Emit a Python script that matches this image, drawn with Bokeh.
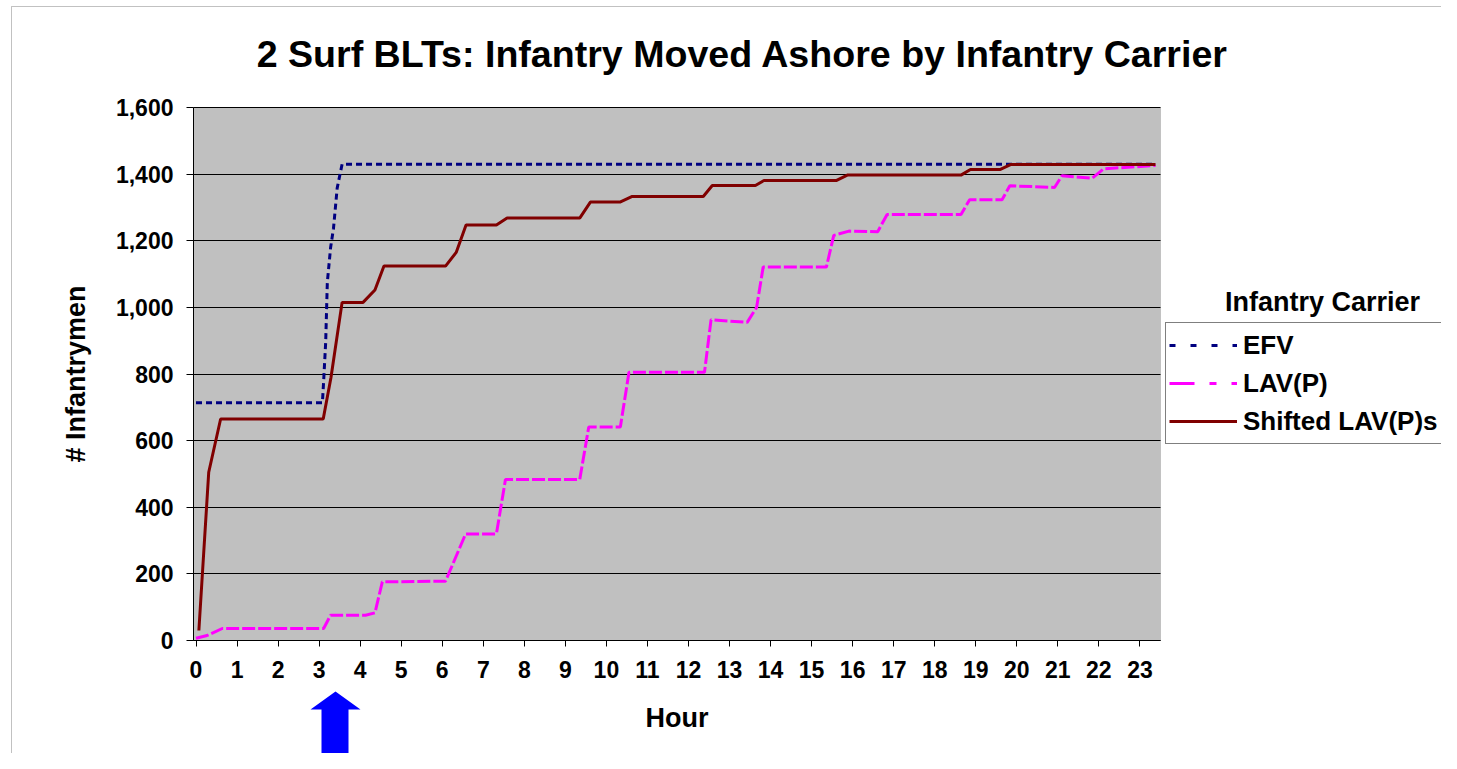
from bokeh.plotting import figure
from bokeh.embed import file_html
from bokeh.resources import INLINE
from bokeh.models import (Label, Legend, LegendItem, PolyAnnotation, BoxAnnotation,
                          NumeralTickFormatter, FixedTicker, Range1d)

# ---------------- data ----------------
title_text = "2 Surf BLTs: Infantry Moved Ashore by Infantry Carrier"
hour_ticks = list(range(0, 24))
y_ticks = [0, 200, 400, 600, 800, 1000, 1200, 1400, 1600]

efv_hour = [0.0, 3.08, 3.11, 3.16, 3.20, 3.28, 3.35, 3.44, 3.56, 23.38]
efv_men = [714, 714, 778, 895, 1075, 1180, 1237, 1358, 1430, 1430]

lav_hour = [0.0, 0.27, 0.64, 3.11, 3.28, 4.13, 4.36, 4.54, 6.08, 6.57, 7.32, 7.54,
            9.35, 9.57, 10.34, 10.55, 12.39, 12.55, 13.43, 13.66, 13.82, 15.36,
            15.54, 15.91, 16.61, 16.84, 18.64, 18.85, 19.64, 19.83, 20.92, 21.10,
            21.84, 22.12, 23.38]
lav_men = [7, 15, 36, 36, 76, 76, 83, 176, 178, 320, 320, 483,
           483, 641, 641, 805, 805, 963, 955, 1000, 1121, 1121,
           1216, 1229, 1227, 1279, 1279, 1323, 1323, 1365, 1360, 1395,
           1388, 1416, 1426]

shift_hour = [0.07, 0.31, 0.60, 3.10, 3.29, 3.56, 4.07, 4.36, 4.58, 6.08, 6.34, 6.58,
              7.32, 7.58, 9.35, 9.61, 10.33, 10.63, 12.36, 12.58, 13.63, 13.84,
              15.61, 15.87, 18.64, 18.87, 19.60, 19.86, 23.38]
shift_men = [30, 505, 665, 665, 790, 1015, 1015, 1052, 1124, 1124, 1165, 1247,
             1247, 1268, 1268, 1316, 1316, 1333, 1333, 1366, 1366, 1381,
             1381, 1397, 1397, 1414, 1414, 1429, 1429]

series_names = ["EFV", "LAV(P)", "Shifted LAV(P)s"]
series_colors = ["#000080", "#FF00FF", "#800000"]
legend_title = "Infantry Carrier"

FONT = "Liberation Sans"

# ---------------- geometry ----------------
W, H = 1441, 753
PX0, PXS = 195.5, 41.04          # pixel of hour 0, pixels per hour
PY0, PYS = 640.0, 533.0 / 1600   # pixel of 0 men, pixels per man


def hx(px):
    return (px - PX0) / PXS


def vy(py):
    return (PY0 - py) / PYS


area_left, area_right = hx(193), hx(1160)
area_bottom, area_top = 0, 1600

p = figure(width=W, height=H, title=None,
           min_border_left=0, min_border_right=0, min_border_top=0, min_border_bottom=0,
           x_range=Range1d(hx(0), hx(W)), y_range=Range1d(vy(H), vy(0)),
           output_backend="svg", toolbar_location=None)

p.background_fill_color = "#FFFFFF"
p.border_fill_color = "#FFFFFF"
p.outline_line_color = None

# plot area
p.add_layout(BoxAnnotation(left=area_left, right=area_right, bottom=area_bottom, top=area_top,
                           fill_color="#C0C0C0", fill_alpha=1, line_color="#808080",
                           line_width=1, level="image"))

# grid
p.xgrid.visible = False
p.ygrid.grid_line_color = "#000000"
p.ygrid.grid_line_width = 1
p.ygrid.ticker = FixedTicker(ticks=y_ticks)
p.ygrid.cross_bounds = (area_left, area_right)

# axes (fixed inside the frame at the plot-area edges)
p.xaxis.fixed_location = area_bottom
p.yaxis.fixed_location = area_left
p.xaxis.bounds = (area_left, area_right)
p.yaxis.bounds = (area_bottom, area_top)
p.xaxis.ticker = FixedTicker(ticks=hour_ticks)
p.yaxis.ticker = FixedTicker(ticks=y_ticks)
p.yaxis.formatter = NumeralTickFormatter(format="0,0")
for ax in (p.xaxis[0], p.yaxis[0]):
    ax.axis_line_color = "#000000"
    ax.major_tick_line_color = "#000000"
    ax.minor_tick_line_color = None
    ax.major_tick_in = 0
    ax.major_label_text_font = FONT
    ax.major_label_text_font_style = "bold"
    ax.major_label_text_font_size = "23px"
    ax.major_label_text_color = "#000000"
    ax.axis_label_text_font = FONT
    ax.axis_label_text_font_style = "bold"
    ax.axis_label_text_font_size = "27px"
    ax.axis_label_text_color = "#000000"
p.xaxis.major_tick_out = 6
p.yaxis.major_tick_out = 7
p.xaxis.major_label_standoff = 14
p.yaxis.major_label_standoff = 13
p.xaxis.axis_label = "Hour"
p.yaxis.axis_label = "# Infantrymen"
p.xaxis.axis_label_standoff = 22
p.yaxis.axis_label_standoff = 22

# lines
p.line(efv_hour, efv_men, line_color=series_colors[0], line_width=3, line_dash="6 4")
p.line(lav_hour, lav_men, line_color=series_colors[1], line_width=3, line_dash="13 3")
p.line(shift_hour, shift_men, line_color=series_colors[2], line_width=3)

# legend samples (styles as shown in the legend); their data lie outside the view
off_x, off_y = [-100, -99], [-9999, -9999]
r_efv = p.line(off_x, off_y, line_color=series_colors[0], line_width=3, line_dash="6 15")
r_lav = p.line(off_x, off_y, line_color=series_colors[1], line_width=3, line_dash="25 15 7 15")
r_sh = p.line(off_x, off_y, line_color=series_colors[2], line_width=3)

legend = Legend(items=[LegendItem(label=series_names[0], renderers=[r_efv]),
                       LegendItem(label=series_names[1], renderers=[r_lav]),
                       LegendItem(label=series_names[2], renderers=[r_sh])],
                location=(1165, H - 444), orientation="vertical",
                glyph_width=68, glyph_height=38, label_height=38, spacing=0,
                padding=3, margin=0, label_standoff=6,
                label_text_font=FONT, label_text_font_style="bold",
                label_text_font_size="26px", label_text_color="#000000",
                border_line_color="#000000", border_line_width=1,
                background_fill_color="#FFFFFF", background_fill_alpha=1)
p.add_layout(legend, "center")

p.add_layout(Label(x=hx(1322), y=vy(301), text=legend_title, text_align="center",
                   text_baseline="middle", text_font=FONT, text_font_style="bold",
                   text_font_size="27px", text_color="#000000"))

# title
p.add_layout(Label(x=hx(742), y=vy(53), text=title_text, text_align="center",
                   text_baseline="middle", text_font=FONT, text_font_style="bold",
                   text_font_size="37.6px", text_color="#000000"))

# blue arrow below the axis
arrow_px = [335, 360, 348, 348, 321, 321, 310]
arrow_py = [691, 709, 709, 800, 800, 709, 709]
p.add_layout(PolyAnnotation(xs=[hx(v) for v in arrow_px], ys=[vy(v) for v in arrow_py],
                            fill_color="#0000FF", fill_alpha=1, line_color=None))

# outer chart border (only its top and left edges fall inside the picture)
border_px = [11, 11, 3000, 3000]
border_py = [3000, 6, 6, 3000]
p.add_layout(PolyAnnotation(xs=[hx(v) for v in border_px], ys=[vy(v) for v in border_py],
                            fill_alpha=0, line_color="#333333", line_width=1))

open("out.html", "w").write(file_html(p, INLINE))
